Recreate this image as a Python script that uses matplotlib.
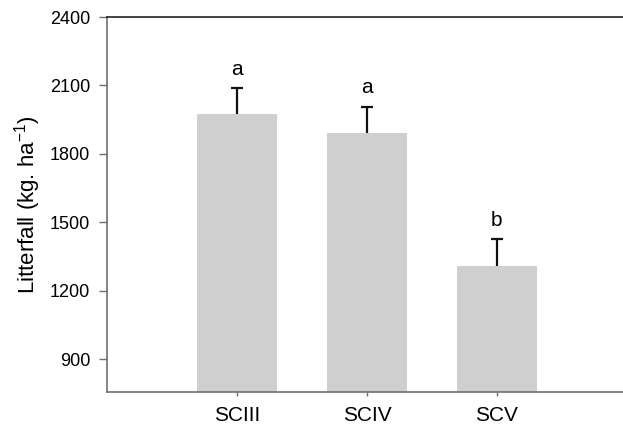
import matplotlib
matplotlib.use("Agg")
import matplotlib.pyplot as plt
import numpy as np

# datos
tratamientos = ["SCIII", "SCIV", "SCV"]
hojarasca = [1975, 1891, 1308]
error = [112, 116, 117]
letras = ["a", "a", "b"]
marcas_y = [900, 1200, 1500, 1800, 2100, 2400]

plt.rcParams["font.family"] = ["Liberation Sans", "DejaVu Sans"]
plt.rcParams["mathtext.default"] = "regular"

fig = plt.figure(figsize=(6.23, 4.25), dpi=100)
ax = fig.add_axes([0.1717, 0.0784, 0.8283, 0.8816])

x = np.arange(len(tratamientos))
tope = np.array(hojarasca) + np.array(error)
ax.bar(x, hojarasca, width=0.61, color="#cfcfcf", zorder=2)
# solo la barra de error superior, con su tapa
ax.vlines(x, hojarasca, tope, color="#111111", linewidth=1.6, zorder=3)
ax.plot(x, tope, linestyle="none", marker="_", markersize=9, mew=1.6,
        color="#111111", zorder=3)

for xi, yi, letra in zip(x, tope, letras):
    ax.annotate(letra, (xi, yi), xytext=(0, 7), textcoords="offset points",
                ha="center", va="bottom", fontsize=15)

ax.set_xlim(-1.0, 2.97)
ax.set_ylim(757, 2400)
ax.set_yticks(marcas_y)
ax.set_xticks(x)
ax.set_xticklabels(tratamientos, fontsize=15)
ax.tick_params(axis="y", labelsize=13, length=6, width=1, color="#707070", pad=6)
ax.tick_params(axis="x", length=3, width=1, color="#707070", pad=7)
ax.set_ylabel("Litterfall (kg. ha$^{-1}$)", fontsize=16, labelpad=5)

ax.spines["right"].set_visible(False)
ax.spines["left"].set_color("#707070")
ax.spines["bottom"].set_color("#707070")
ax.spines["top"].set_color("#222222")
for s in ["left", "bottom", "top"]:
    ax.spines[s].set_linewidth(1.2)

fig.savefig("out.png", dpi=100)
